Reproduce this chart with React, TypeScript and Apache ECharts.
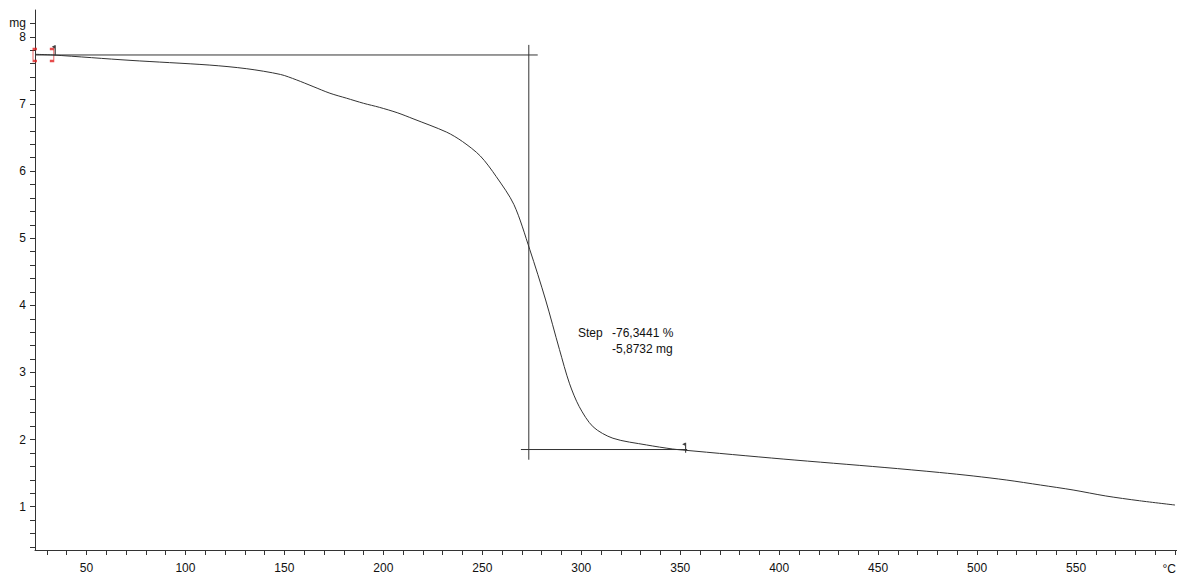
import React, { useEffect, useRef } from 'react';
import * as echarts from 'echarts';

// TGA curve: temperature (°C) vs mass (mg)
const temps = [24, 33, 72, 112, 131, 148, 156, 164.5, 173, 181.4, 190, 198, 207, 215, 232, 240, 249, 257, 266, 274, 282, 289, 294, 299, 306, 316, 333, 346, 351, 402, 453, 481, 498, 515, 532, 548.5, 565, 582, 600];
const masses = [7.74, 7.73, 7.65, 7.58, 7.525, 7.44, 7.36, 7.26, 7.16, 7.086, 7.01, 6.95, 6.87, 6.78, 6.58, 6.44, 6.225, 5.92, 5.50, 4.83, 4.08, 3.34, 2.84, 2.49, 2.19, 2.02, 1.92, 1.86, 1.845, 1.71, 1.585, 1.51, 1.458, 1.397, 1.323, 1.249, 1.160, 1.089, 1.025];

// Step evaluation construction
const stepTopLine = [[24, 7.73], [278, 7.73]];
const stepVerticalLine = [[273.5, 7.88], [273.5, 1.70]];
const stepBottomLine = [[269.5, 1.852], [353.5, 1.852]];
const limitLeft = [[24, 7.73]];
const limitRight = [[32.5, 7.73]];
const flagPoints = [[33.5, 7.80], [352, 1.88]];

const stepLabel = 'Step';
const stepPercent = '-76,3441 %';
const stepMg = '-5,8732 mg';

const xTicks = [30, 40, 50, 60, 70, 80, 90, 100, 110, 120, 130, 140, 150, 160, 170, 180, 190, 200, 210, 220, 230, 240, 250, 260, 270, 280, 290, 300, 310, 320, 330, 340, 350, 360, 370, 380, 390, 400, 410, 420, 430, 440, 450, 460, 470, 480, 490, 500, 510, 520, 530, 540, 550, 560, 570, 580, 590, 600];
const xLabels = [50, 100, 150, 200, 250, 300, 350, 400, 450, 500, 550];
const yTicks = [0.4, 0.6, 0.8, 1, 1.2, 1.4, 1.6, 1.8, 2, 2.2, 2.4, 2.6, 2.8, 3, 3.2, 3.4, 3.6, 3.8, 4, 4.2, 4.4, 4.6, 4.8, 5, 5.2, 5.4, 5.6, 5.8, 6, 6.2, 6.4, 6.6, 6.8, 7, 7.2, 7.4, 7.6, 7.8, 8, 8.2];
const yLabels = [1, 2, 3, 4, 5, 6, 7, 8, 8.2];

const FONT = "'Liberation Sans', sans-serif";
const INK = '#333';

export default function App() {
  const ref = useRef<HTMLDivElement>(null);
  useEffect(() => {
    document.body.style.margin = '0';
    const chart = echarts.init(ref.current!, null, { renderer: 'svg' });
    const curve = temps.map((t, i) => [t, masses[i]]);
    const lineSeries = (data: number[][]) => ({
      type: 'line',
      data,
      showSymbol: false,
      symbol: 'none',
      lineStyle: { color: INK, width: 1 },
      silent: true,
    });
    chart.setOption({
      animation: false,
      backgroundColor: '#fff',
      grid: { left: 35, right: 0, top: 10, bottom: 26 },
      xAxis: {
        type: 'value',
        min: 24,
        max: 601,
        axisLine: { lineStyle: { color: INK, width: 1 } },
        axisTick: { show: true, length: 5, customValues: xTicks, lineStyle: { color: INK } },
        axisLabel: {
          customValues: xLabels,
          margin: 12,
          color: '#111',
          fontSize: 12,
          fontFamily: FONT,
        },
        splitLine: { show: false },
      },
      yAxis: {
        type: 'value',
        min: 0.355,
        max: 8.4,
        axisLine: { show: true, lineStyle: { color: INK, width: 1 } },
        axisTick: { show: true, length: 5, customValues: yTicks, lineStyle: { color: INK } },
        axisLabel: {
          customValues: yLabels,
          margin: 9,
          color: '#111',
          fontSize: 12,
          fontFamily: FONT,
          formatter: (v: number) => (v > 8.1 ? 'mg' : String(Math.round(v))),
        },
        splitLine: { show: false },
      },
      series: [
        { ...lineSeries(curve), smooth: 0.3 },
        lineSeries(stepTopLine),
        lineSeries(stepVerticalLine),
        lineSeries(stepBottomLine),
        {
          type: 'scatter',
          data: limitLeft,
          symbol: 'path://M4,0 L0,0 L0,12 L4,12',
          symbolSize: [4, 12],
          itemStyle: { color: 'none', borderColor: '#e02020', borderWidth: 1.5 },
          silent: true,
        },
        {
          type: 'scatter',
          data: limitRight,
          symbol: 'path://M0,0 L4,0 L4,12 L0,12',
          symbolSize: [4, 12],
          itemStyle: { color: 'none', borderColor: '#e02020', borderWidth: 1.5 },
          silent: true,
        },
        {
          type: 'scatter',
          data: flagPoints,
          symbol: 'path://M2.5,0 L3.5,0 L3.5,10 L2.5,10 Z M2.5,0 L0,1.6 L2.5,3.2 Z',
          symbolSize: [4, 10],
          itemStyle: { color: '#111' },
          silent: true,
        },
      ],
      graphic: [
        {
          type: 'text',
          left: 578,
          top: 327,
          style: { text: stepLabel, fill: '#111', font: `12px ${FONT}` },
        },
        {
          type: 'text',
          left: 612,
          top: 327,
          style: { text: stepPercent, fill: '#111', font: `12px ${FONT}` },
        },
        {
          type: 'text',
          left: 612,
          top: 343,
          style: { text: stepMg, fill: '#111', font: `12px ${FONT}` },
        },
        {
          type: 'text',
          right: 1,
          top: 563,
          style: { text: '°C', fill: '#111', font: `12px ${FONT}` },
        },
      ],
    });
    return () => chart.dispose();
  }, []);
  return <div ref={ref} style={{ width: 1177, height: 576 }} />;
}
